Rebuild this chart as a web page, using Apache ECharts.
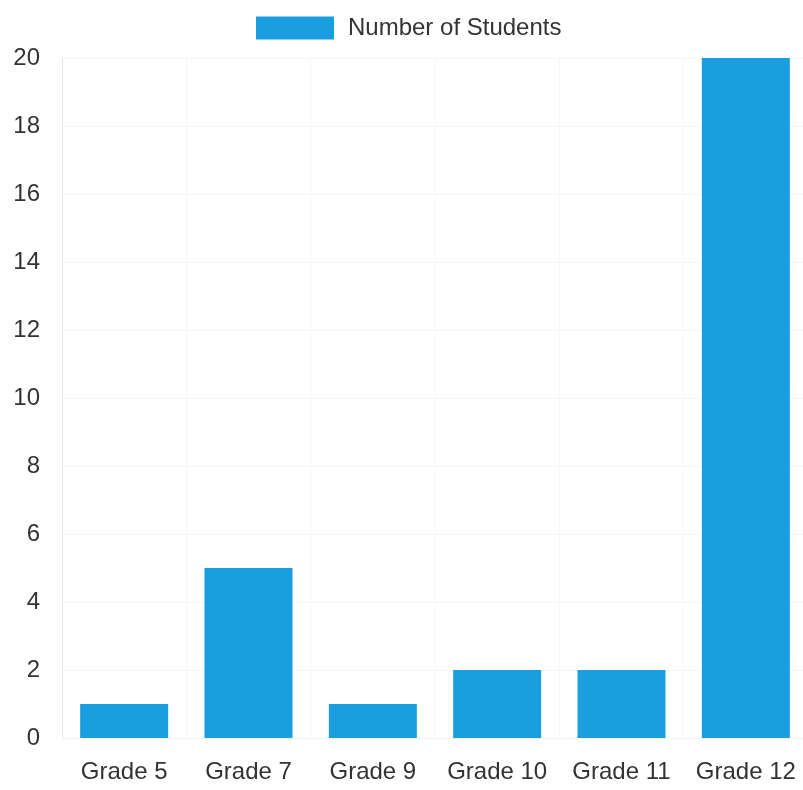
<!DOCTYPE html>
<html>
<head>
<meta charset="utf-8">
<script src="https://cdn.jsdelivr.net/npm/echarts@6/dist/echarts.min.js"></script>
<style>
  html, body { margin: 0; padding: 0; background: #fff; overflow: hidden; }
  /* the source chart runs a few px past the right edge of the picture */
  #chart { width: 808px; height: 790px; }
</style>
</head>
<body>
<div id="chart"></div>
<script>
const categories = ['Grade 5', 'Grade 7', 'Grade 9', 'Grade 10', 'Grade 11', 'Grade 12'];
const studentCounts = [1, 5, 1, 2, 2, 20];
const seriesName = 'Number of Students';

const chart = echarts.init(document.getElementById('chart'));

chart.setOption({
  backgroundColor: '#fff',
  animation: false,
  textStyle: { fontFamily: '"Liberation Sans", Arial, sans-serif' },
  legend: {
    left: 256,
    top: 16,
    padding: 0,
    itemWidth: 78,
    itemHeight: 23,
    itemStyle: { borderWidth: 0 },
    textStyle: { fontSize: 24, color: '#333', padding: [0, 0, 0, 9] },
    data: [{ name: seriesName, icon: 'rect' }]
  },
  grid: { left: 62, top: 58, right: 0, height: 680, containLabel: false },
  xAxis: {
    type: 'category',
    data: categories,
    axisLine: { show: true, lineStyle: { color: '#f0f0f0', width: 1 } },
    axisTick: { show: false },
    splitLine: { show: true, lineStyle: { color: '#f6f6f6' } },
    axisLabel: { fontSize: 24, color: '#333', margin: 22, interval: 0 }
  },
  yAxis: {
    type: 'value',
    min: 0,
    max: 20,
    interval: 2,
    axisLine: { show: true, lineStyle: { color: '#e8e8e8' } },
    axisTick: { show: false },
    splitLine: { show: true, lineStyle: { color: '#f6f6f6' } },
    axisLabel: { fontSize: 24, color: '#333', margin: 22 }
  },
  series: [{
    name: seriesName,
    type: 'bar',
    data: studentCounts,
    barWidth: 88,
    itemStyle: { color: '#1a9ee0' }
  }]
});
</script>
</body>
</html>
